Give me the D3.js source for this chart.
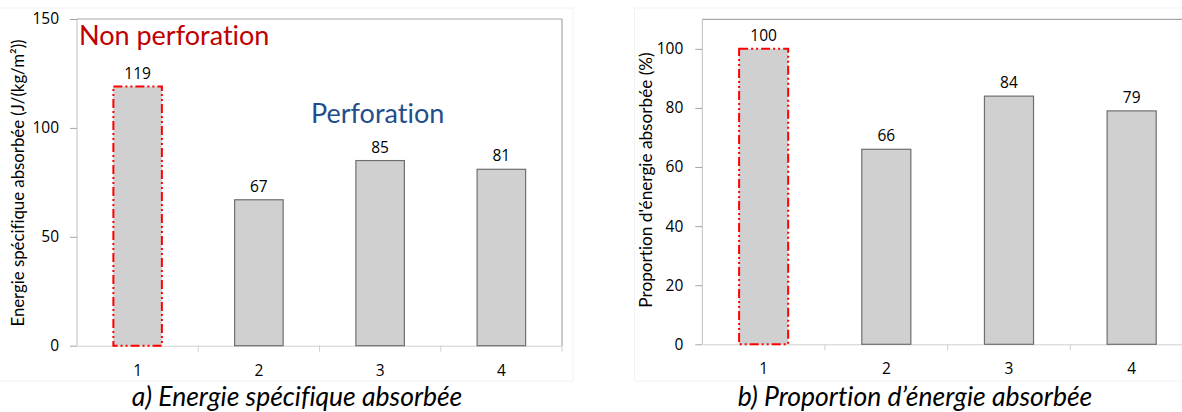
<!DOCTYPE html>
<html>
<head>
<meta charset="utf-8">
<script src="https://cdn.jsdelivr.net/npm/d3@7"></script>
<style>
html,body{margin:0;padding:0;background:#fff;}
svg{display:block;font-family:Lato,"Open Sans",sans-serif;font-variant-ligatures:none;font-feature-settings:"liga" 0,"dlig" 0;}
</style>
</head>
<body>
<svg id="chart" width="1182" height="412"></svg>
<script>
// ---- data ----
const categories = ["1", "2", "3", "4"];
const energyValues = [119, 67, 85, 81];
const proportionValues = [100, 66, 84, 79];
const energyTicks = [0, 50, 100, 150];
const proportionTicks = [0, 20, 40, 60, 80, 100];
const energyTitle = "Energie spécifique absorbée (J/(kg/m²))";
const proportionTitle = "Proportion d'énergie absorbée (%)";
const captionA = "a) Energie spécifique absorbée";
const captionB = "b) Proportion d’énergie absorbée";
const labelNonPerf = "Non perforation";
const labelPerf = "Perforation";

const numFont = "'Open Sans', sans-serif";
const svg = d3.select("#chart");

function panel(opt) {
  const g = svg.append("g");
  // faint outer chart border
  g.append("rect").attr("x", opt.outer[0]).attr("y", opt.outer[1])
    .attr("width", opt.outer[2]).attr("height", opt.outer[3])
    .attr("fill", "none").attr("stroke", "#f2f2f2").attr("stroke-width", 1);

  const x = d3.scaleBand().domain(categories).range([opt.left, opt.right]).paddingInner(0.6).paddingOuter(0.3);
  const xb = d3.scaleBand().domain(categories).range([opt.left, opt.right]);
  const y = d3.scaleLinear().domain([0, opt.max]).range([opt.bottom, opt.top]);

  // plot area frame (top + right)
  g.append("path")
    .attr("d", `M${opt.left},${opt.top}H${opt.right}V${opt.bottom}`)
    .attr("fill", "none").attr("stroke", "#a6a6a6").attr("stroke-width", 1.2);

  // y axis
  const ya = g.append("g").attr("transform", `translate(${opt.left},0)`)
    .call(d3.axisLeft(y).tickValues(opt.ticks).tickSize(7).tickPadding(opt.tickPad).tickSizeOuter(0));
  ya.select(".domain").attr("stroke", "#bfbfbf").attr("d", `M0,${opt.top}V${opt.bottom}`);
  ya.selectAll(".tick line").attr("stroke", "#a6a6a6");
  ya.selectAll(".tick text").attr("font-size", 15.5).attr("fill", "#000").attr("font-family", numFont);

  // x axis
  const xa = g.append("g").attr("transform", `translate(0,${opt.bottom})`)
    .call(d3.axisBottom(xb).tickSize(0).tickPadding(19).tickSizeOuter(0));
  xa.select(".domain").attr("stroke", "#d0d0d0");
  xa.selectAll(".tick text").attr("font-size", 15.5).attr("fill", "#000").attr("font-family", numFont);
  // category separators
  g.selectAll("line.sep").data(categories.slice(1).concat(["end"]))
    .enter().append("line").attr("class", "sep")
    .attr("x1", (d, i) => i < 3 ? xb(d) : xb(categories[3]) + xb.bandwidth())
    .attr("x2", (d, i) => i < 3 ? xb(d) : xb(categories[3]) + xb.bandwidth())
    .attr("y1", opt.bottom).attr("y2", opt.bottom + 6)
    .attr("stroke", "#d0d0d0");

  // bars
  g.selectAll("rect.bar").data(opt.values).enter().append("rect").attr("class", "bar")
    .attr("x", (d, i) => x(categories[i]))
    .attr("y", d => y(d))
    .attr("width", x.bandwidth())
    .attr("height", d => opt.bottom - y(d))
    .attr("fill", "#d0d0d0")
    .attr("stroke", (d, i) => i === 0 ? "#ff0000" : "#6f6f6f")
    .attr("stroke-width", (d, i) => i === 0 ? 2 : 1.2)
    .attr("stroke-dasharray", (d, i) => i === 0 ? "9,3,2,3,2,3" : null);

  // value labels
  g.selectAll("text.val").data(opt.values).enter().append("text").attr("class", "val")
    .attr("x", (d, i) => x(categories[i]) + x.bandwidth() / 2)
    .attr("y", d => y(d) - 8)
    .attr("text-anchor", "middle").attr("font-size", 15.5).attr("fill", "#000")
    .attr("font-family", numFont)
    .text(d => d);

  // y title
  g.append("text")
    .attr("transform", `translate(${opt.titleX},${opt.titleY}) rotate(-90)`)
    .attr("text-anchor", "middle").attr("dominant-baseline", "middle")
    .attr("font-size", opt.titleSize).attr("fill", "#000")
    .text(opt.title);

  // caption
  g.append("text").attr("x", opt.capX).attr("y", 406)
    .attr("text-anchor", "middle").attr("font-size", 26.5).attr("font-style", "italic")
    .attr("fill", "#000").text(opt.caption);

  return {x, y};
}

const A = panel({
  left: 77, right: 562, top: 19, bottom: 345.7, max: 150,
  ticks: energyTicks, values: energyValues, tickPad: 11,
  title: energyTitle, titleX: 20, titleY: 183, titleSize: 16.8,
  caption: captionA, capX: 297, outer: [-1, 8, 574, 373]
});
const B = panel({
  left: 702.3, right: 1193, top: 19.3, bottom: 344.3, max: 110,
  ticks: proportionTicks, values: proportionValues, tickPad: 12,
  title: proportionTitle, titleX: 648, titleY: 180, titleSize: 17.2,
  caption: captionB, capX: 915, outer: [634.5, 8, 600, 373]
});

// annotations
svg.append("text").attr("x", 79).attr("y", 45)
  .attr("font-size", 27).attr("fill", "#c00000").text(labelNonPerf);
svg.append("text").attr("x", 311).attr("y", 123)
  .attr("font-size", 27).attr("fill", "#1f4e8c").text(labelPerf);
</script>
</body>
</html>
